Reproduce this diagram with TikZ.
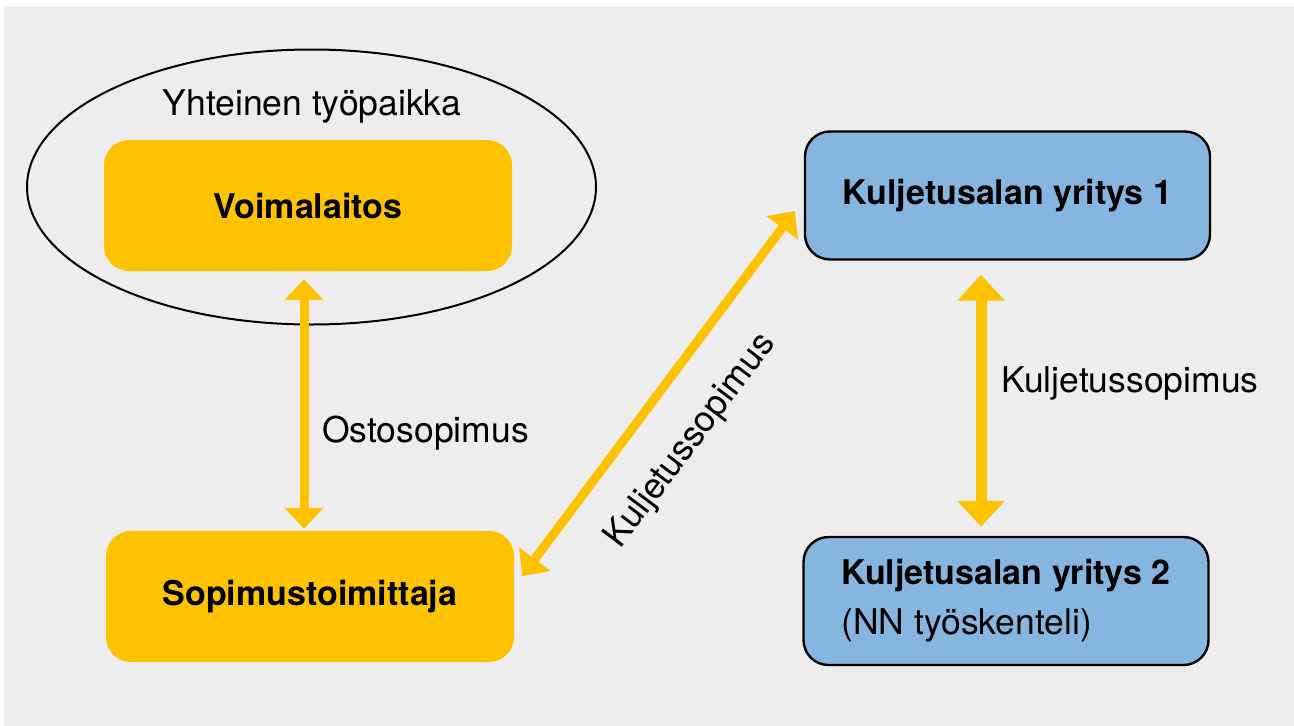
\documentclass[tikz,border=0pt]{standalone}
\usepackage{fontspec}
\setmainfont{TeX Gyre Heros}
\usetikzlibrary{arrows.meta,shapes.geometric}
\definecolor{yel}{RGB}{254,195,0}
\definecolor{blu}{RGB}{134,182,224}
\definecolor{bgc}{RGB}{237,237,237}
\newcommand\fsz{\fontsize{34}{50}\selectfont}
\newcommand\fszr{\fontsize{35.5}{50}\selectfont}
\begin{document}
\begin{tikzpicture}[x=1pt,y=-1pt,
  ybox/.style={fill=yel, rounded corners=25pt, minimum width=408pt, minimum height=131pt, inner sep=0pt, font=\fsz\bfseries},
  bbox/.style={fill=blu, draw=black, line width=2.4pt, rounded corners=25pt, minimum width=405pt, minimum height=128pt, inner sep=0pt, font=\fsz\bfseries},
  lbl/.style={font=\fszr, inner sep=0pt},
  arrA/.style={draw=yel, line width=9pt, {Triangle[width=38pt,length=21pt]}-{Triangle[width=38pt,length=21pt]}},
  arrB/.style={draw=yel, line width=11pt, {Triangle[width=46pt,length=26pt]}-{Triangle[width=46pt,length=26pt]}}]
\useasboundingbox (0,0) rectangle (1294,726);
\fill[white] (0,0) rectangle (1294,726);
\fill[bgc] (4,6) rectangle (1294,726);
\node[draw, line width=2pt, ellipse, minimum width=569pt, minimum height=275pt, inner sep=0pt] (ell) at (311.5,187) {};
\node[lbl, anchor=base] (yht) at (312,115) {Yhteinen työpaikka};
\node[ybox] (voima) at (308,205.5) {Voimalaitos};
\node[ybox] (sopi) at (310,596.5) {Sopimustoimittaja};
\node[bbox] (kul1) at (1007.5,195.5) {Kuljetusalan yritys 1};
\node[bbox, align=left] (kul2) at (1006,601) {Kuljetusalan yritys 2\\{\fszr\mdseries (NN työskenteli)}};
\node[lbl, anchor=base west] (osto) at (322,442) {Ostosopimus};
\node[lbl, anchor=base west] (kuljlbl) at (1001,392) {Kuljetussopimus};
\node[lbl, rotate=53] (diaglbl) at (691,441) {Kuljetussopimus};
\draw[arrA] ([shift={(-4,8)}]voima.south) -- ([shift={(-6,-2)}]sopi.north);
\draw[arrA] ([shift={(8,-20.5)}]sopi.east) -- ([shift={(-9,15.5)}]kul1.west);
\draw[arrB] ([shift={(-26.5,14)}]kul1.south) -- ([shift={(-25,-9)}]kul2.north);
\end{tikzpicture}
\end{document}
